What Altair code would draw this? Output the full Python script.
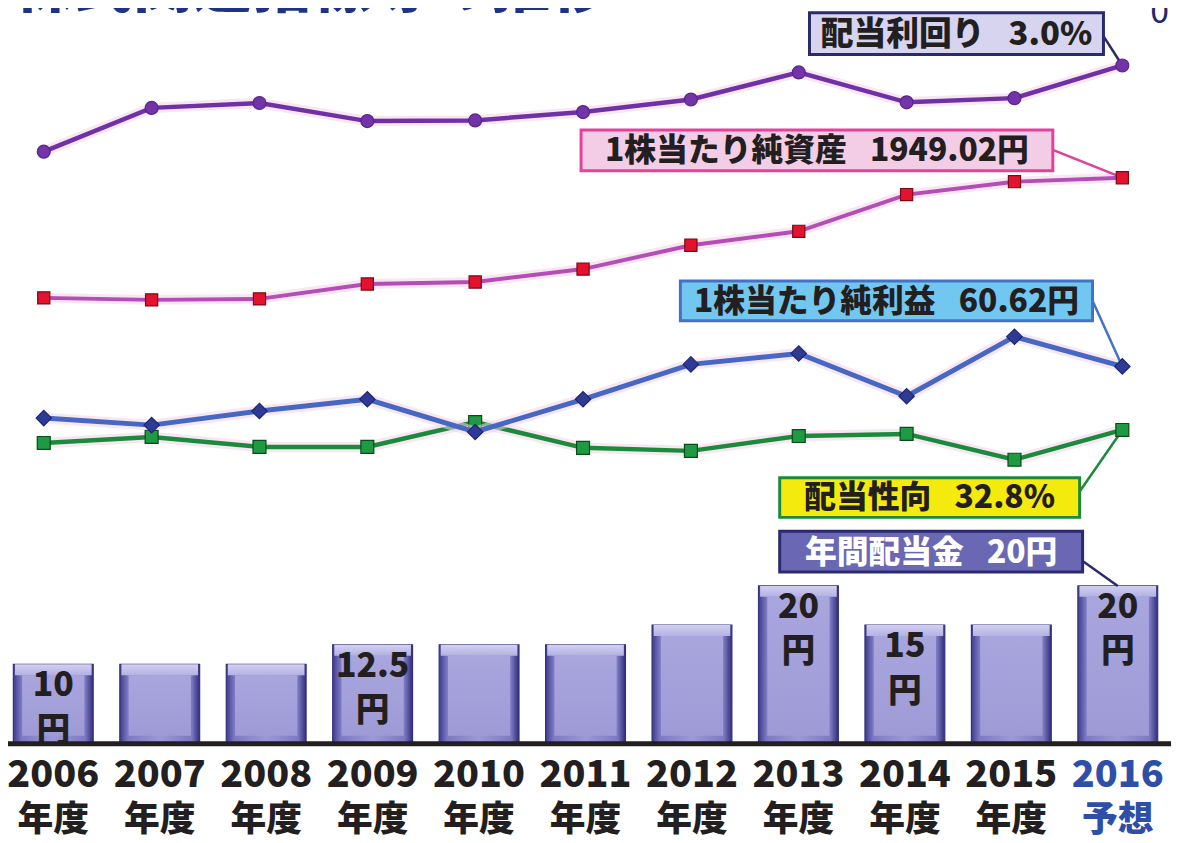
import altair as alt
import pandas as pd

# ---------------- data ----------------
years = ["2006", "2007", "2008", "2009", "2010", "2011", "2012", "2013", "2014", "2015", "2016"]
sub_labels = ["年度"] * 10 + ["予想"]
dividend = [10, 10, 10, 12.5, 12.5, 12.5, 15, 20, 15, 15, 20]
bar_labels = ["10", "", "", "12.5", "", "", "", "20", "15", "", "20"]
div_yield = [1.76, 2.39, 2.46, 2.20, 2.21, 2.33, 2.51, 2.90, 2.47, 2.53, 3.0]
bps = [1344, 1334, 1339, 1414, 1424, 1489, 1609, 1679, 1864, 1929, 1949.02]
eps = [35.6, 32.2, 39.0, 44.7, 28.9, 44.7, 61.6, 66.9, 46.2, 75.0, 60.62]
payout = [27.2, 29.8, 25.5, 25.5, 36.2, 25.1, 23.8, 30.2, 31.1, 20.0, 32.8]
title_text = "株式関連指標等の推移"

df = pd.DataFrame({
    "year": years, "sub": sub_labels, "dividend": dividend, "bar_label": bar_labels,
    "div_yield": div_yield, "bps": bps, "eps": eps, "payout": payout,
})

W, H = 1179, 745
FONT = "Noto Sans CJK JP"
INK = "#231F20"
GAP = "\u2002\u00a0"

# ---------------- bars ----------------
xb = alt.X("year:N", axis=None, sort=years,
           scale=alt.Scale(paddingInner=0.25, paddingOuter=0.125))
yb = alt.Y("dividend:Q", axis=None, stack=None, scale=alt.Scale(domain=[0, 94.3]))
base = alt.Chart(df)

outer_grad = alt.Gradient(
    gradient="linear", x1=0, x2=1, y1=0, y2=0,
    stops=[alt.GradientStop(color="#3E3B8C", offset=0),
           alt.GradientStop(color="#7C79C2", offset=0.1),
           alt.GradientStop(color="#9C99D6", offset=0.5),
           alt.GradientStop(color="#7C79C2", offset=0.9),
           alt.GradientStop(color="#302E78", offset=1)])
inner_grad = alt.Gradient(
    gradient="linear", x1=0, x2=0, y1=0, y2=1,
    stops=[alt.GradientStop(color="#A9A6DE", offset=0),
           alt.GradientStop(color="#A3A0DA", offset=0.5),
           alt.GradientStop(color="#9D9AD6", offset=1)])
top_grad = alt.Gradient(
    gradient="linear", x1=0, x2=0, y1=0, y2=1,
    stops=[alt.GradientStop(color="#D2D0F0", offset=0),
           alt.GradientStop(color="#B4B1E4", offset=1)])

bar_outer = base.mark_bar(color=outer_grad, stroke="#34327A", strokeWidth=1.2).encode(
    x=xb, y=yb, y2=alt.datum(0))
bar_top = base.mark_bar(color=top_grad, y2Offset=11, width={"band": 0.96}).encode(
    x=xb, y=yb, y2=alt.Y2("dividend:Q"))
bar_inner = base.mark_bar(color=inner_grad, width={"band": 0.78}, yOffset=11, y2Offset=-7).encode(
    x=xb, y=yb, y2=alt.datum(0))
bar_lab = base.transform_filter("datum.bar_label != ''").mark_text(
    font=FONT, fontSize=34, fontWeight=900, color=INK, baseline="top", dy=5
).encode(x=xb, y=yb, text="bar_label:N")
bar_yen = base.transform_filter("datum.bar_label != ''").mark_text(
    font=FONT, fontSize=34, fontWeight=900, color=INK, baseline="top", dy=50
).encode(x=xb, y=yb, text=alt.value("円"))
div_conn = base.transform_filter(alt.datum.year == "2016").mark_rule(
    color="#2A2A6E", strokeWidth=2.5).encode(
    x=xb, y=yb, x2=alt.value(1090), y2=alt.value(562))

baseline_df = pd.DataFrame({"k": [0]})
axis_line = alt.Chart(baseline_df).mark_rule(color=INK, strokeWidth=5).encode(
    x=alt.value(0), x2=alt.value(W), y=alt.value(746))

lab_color = alt.condition(alt.datum.year == "2016", alt.value("#2E4FA8"), alt.value(INK))
year_text = base.mark_text(font=FONT, fontSize=38, fontWeight=900, baseline="middle").encode(
    x=xb, y=alt.value(778), text="year:N", color=lab_color)
sub_text = base.mark_text(font=FONT, fontSize=36, fontWeight=900, baseline="middle").encode(
    x=xb, y=alt.value(823), text="sub:N", color=lab_color)

bars_layer = alt.layer(bar_outer, bar_top, bar_inner, bar_lab, bar_yen, div_conn,
                       axis_line, year_text, sub_text)


# ---------------- lines ----------------
def series(field, domain, line_color, line_w, shape, pt_fill, pt_stroke, pt_size,
           conn_color, conn_x, conn_y, halo="#F2D4E8"):
    xl = alt.X("year:N", axis=None, sort=years,
               scale=alt.Scale(type="point", padding=0, range=[44, 1130]))
    yl = alt.Y(f"{field}:Q", axis=None, scale=alt.Scale(domain=domain))
    b = alt.Chart(df)
    glow = b.mark_line(color=halo, strokeWidth=line_w + 6, opacity=0.55).encode(x=xl, y=yl)
    line = b.mark_line(color=line_color, strokeWidth=line_w).encode(x=xl, y=yl)
    conn = b.transform_filter(alt.datum.year == "2016").mark_rule(
        color=conn_color, strokeWidth=2.5).encode(
        x=xl, y=yl, x2=alt.value(conn_x), y2=alt.value(conn_y))
    pts = b.mark_point(shape=shape, filled=True, fill=pt_fill, stroke=pt_stroke,
                       strokeWidth=1.2, size=pt_size, opacity=1).encode(x=xl, y=yl)
    return alt.layer(glow, line, conn, pts)


yield_layer = series("div_yield", [-6.743, 3.9], "#6F31A5", 4.5, "circle", "#7234A8", "#5A2488", 170,
                     "#2A2A6E", 1110, 32)
bps_layer = series("bps", [-895.98, 2829.02], "#B44DB6", 4, "square", "#E3132E", "#7A0A16", 150,
                   "#E0409A", 1060, 148)
eps_layer = series("eps", [-121.59, 236.58], "#4668C2", 5, "diamond", "#2F3A94", "#1D2570", 240,
                   "#4472C4", 1100, 300)
pay_layer = series("payout", [-101.82, 216.56], "#1C8A3C", 4.5, "square", "#1E9A42", "#0B4A1C", 170,
                   "#1C8A3C", 1087, 492)


# ---------------- annotation boxes ----------------
def box(x1, x2, y1, y2, fill, stroke, text, tcolor, fs):
    d = alt.Chart(pd.DataFrame({"t": [text]}))
    r = d.mark_rect(fill=fill, stroke=stroke, strokeWidth=3).encode(
        x=alt.value(x1), x2=alt.value(x2), y=alt.value(y1), y2=alt.value(y2))
    t = d.mark_text(font=FONT, fontSize=fs, fontWeight=900, color=tcolor,
                    align="center", baseline="middle").encode(
        x=alt.value((x1 + x2) / 2), y=alt.value((y1 + y2) / 2 + 1), text="t:N")
    return alt.layer(r, t)


box_yield = box(815, 1111, 10, 52, "#D6D4EE", "#2A2A6E", f"配当利回り{GAP}{div_yield[-1]:.1f}%", INK, 33)
box_bps = box(585, 1060, 128, 169, "#F3CDE6", "#E6409C", f"1株当たり純資産{GAP}{bps[-1]:.2f}円", INK, 32)
box_eps = box(685, 1100, 280, 320, "#72C7F0", "#4472C4", f"1株当たり純利益{GAP}{eps[-1]:.2f}円", INK, 32)
box_pay = box(785, 1087, 478, 518, "#F5EA0E", "#1C8A3C", f"配当性向{GAP}{payout[-1]:.1f}%", INK, 32)
box_div = box(785, 1090, 532, 573, "#6A68B4", "#2A2A6E", f"年間配当金{GAP}{dividend[-1]:.0f}円", "#FFFFFF", 32)

title_df = pd.DataFrame({"t": [title_text]})
title = alt.Chart(title_df).mark_text(font=FONT, fontSize=60, fontWeight=900, color="#1F3385",
                                      align="left", baseline="bottom").encode(
    x=alt.value(14), y=alt.value(17), text="t:N")
corner = alt.Chart(pd.DataFrame({"t": ["0"]})).mark_text(
    font=FONT, fontSize=34, color="#1F2A6E", align="left", baseline="bottom").encode(
    x=alt.value(1158), y=alt.value(27), text="t:N")

chart = alt.layer(
    bars_layer, pay_layer, eps_layer, bps_layer, yield_layer,
    box_yield, box_bps, box_eps, box_pay, box_div, title, corner
).resolve_scale(x="independent", y="independent").properties(
    width=W, height=H,
    padding={"left": -8, "top": -8, "right": 0, "bottom": 98},
    autosize=alt.AutoSizeParams(type="none"),
    background="white",
).configure_view(stroke=None)

chart.save("out.html", embed_options={"renderer": "svg", "actions": False})
